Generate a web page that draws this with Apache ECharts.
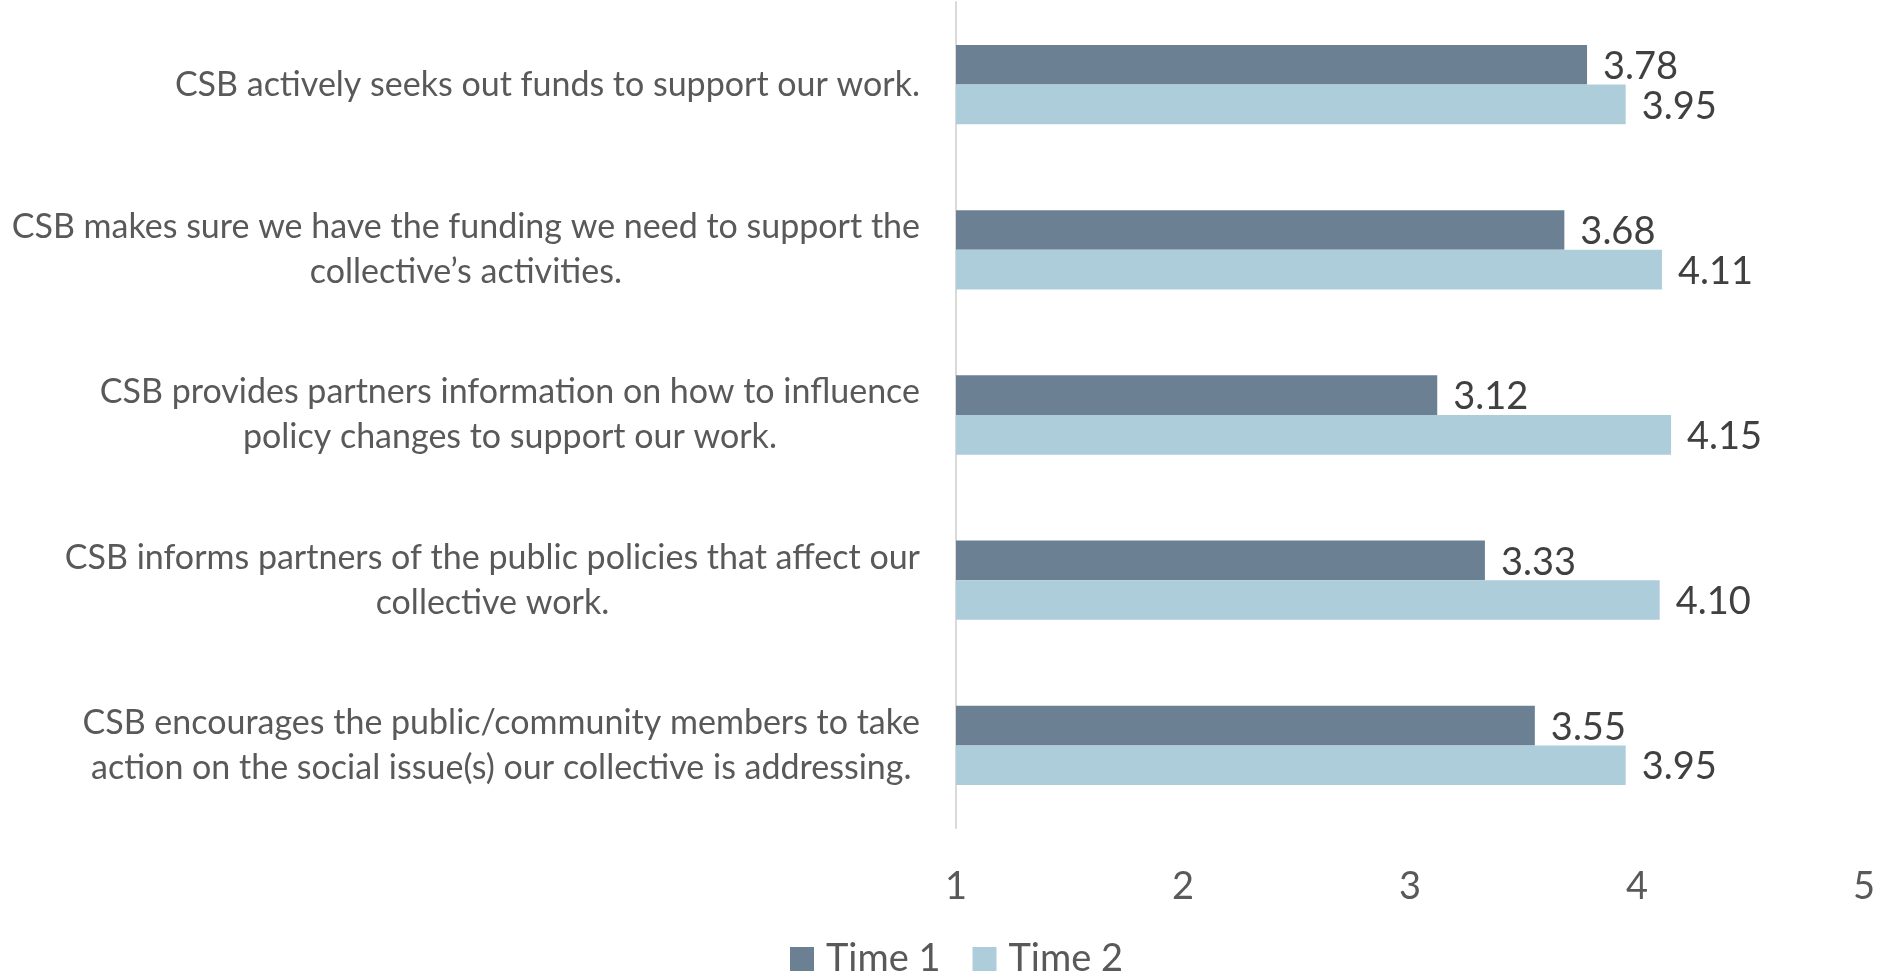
<!DOCTYPE html>
<html>
<head>
<meta charset="utf-8">
<script src="https://cdn.jsdelivr.net/npm/echarts@6/dist/echarts.min.js"></script>
<style>html,body{margin:0;padding:0;background:#fff}#c{width:1881px;height:977px}</style>
</head>
<body>
<div id="c"></div>
<script>
const categories = [
  "CSB actively seeks out funds to support our work.",
  "CSB makes sure we have the funding we need to support the\ncollective\u2019s activities.",
  "CSB provides partners information on how to influence\npolicy changes to support our work.",
  "CSB informs partners of the public policies that affect our\ncollective work.",
  "CSB encourages the public/community members to take\naction on the social issue(s) our collective is addressing."
];
const time1 = [3.78, 3.68, 3.12, 3.33, 3.55];
const time2 = [3.95, 4.11, 4.15, 4.10, 3.95];
const seriesNames = ["Time 1", "Time 2"];

const FONT = "Lato";
const chart = echarts.init(document.getElementById('c'));
const valLabel = {
  show: true, position: 'right', distance: 16, offset: [0, 2],
  formatter: p => p.value.toFixed(2),
  fontFamily: FONT, fontSize: 38, color: '#404040'
};
chart.setOption({
  animation: false,
  textStyle: { fontFamily: FONT },
  grid: { left: 956, right: 17, top: 2, bottom: 149, containLabel: false },
  legend: {
    data: seriesNames, bottom: -6, left: 785,
    itemWidth: 24, itemHeight: 24, itemGap: 32, icon: 'rect',
    textStyle: { fontFamily: FONT, fontSize: 38, color: '#595959', padding: [0,0,0,7] }
  },
  xAxis: {
    type: 'value', min: 1, max: 5, interval: 1,
    axisLine: { show: false }, axisTick: { show: false }, splitLine: { show: false },
    axisLabel: { fontFamily: FONT, fontSize: 38, color: '#595959', margin: 40 }
  },
  yAxis: {
    type: 'category', data: categories, inverse: true,
    axisLine: { show: true, lineStyle: { color: '#d9d9d9', width: 2 } },
    axisTick: { show: false },
    axisLabel: {
      margin: 36, color: '#595959', fontFamily: FONT, fontSize: 34, lineHeight: 45,
      formatter: v => v.split('\n').map(s => '{a|' + s + '}').join('\n'),
      rich: { a: { align: 'center', fontFamily: FONT, fontSize: 34, lineHeight: 45, color: '#595959' } }
    }
  },
  series: [
    { name: seriesNames[0], type: 'bar', data: time1, barGap: '0%', barCategoryGap: '52%',
      itemStyle: { color: '#6c8094' }, label: valLabel },
    { name: seriesNames[1], type: 'bar', data: time2, barGap: '0%', barCategoryGap: '52%',
      itemStyle: { color: '#aecddb' }, label: valLabel }
  ]
});
</script>
</body>
</html>
